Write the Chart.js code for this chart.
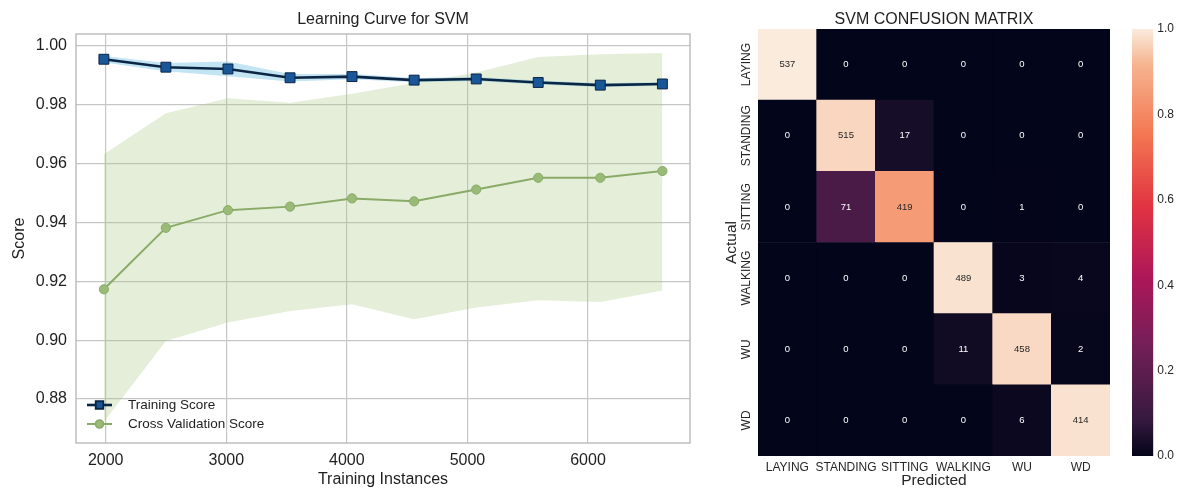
<!DOCTYPE html>
<html>
<head>
<meta charset="utf-8">
<title>SVM learning curve and confusion matrix</title>
<script src="https://cdn.jsdelivr.net/npm/chart.js@4.4.1/dist/chart.umd.min.js"></script>
<style>
  html, body { margin: 0; padding: 0; background: #fff; }
  body { width: 1193px; height: 491px; position: relative; overflow: hidden; }
  canvas { position: absolute; top: 0; }
  #curveChart { left: 0; }
  #matrixChart { left: 700px; }
  #colorbarChart { left: 1120px; }
</style>
</head>
<body>
<canvas id="curveChart" width="700" height="491"></canvas>
<canvas id="matrixChart" width="430" height="491"></canvas>
<canvas id="colorbarChart" width="73" height="491"></canvas>
<script>
// learning curve data
const trainSizes = [1985, 2499, 3014, 3529, 4043, 4558, 5073, 5587, 6102, 6617];
const trainScore = [0.9955, 0.9928, 0.9922, 0.9892, 0.9896, 0.9884, 0.9888, 0.9876, 0.9867, 0.9871];
const trainUpper = [0.9966, 0.9942, 0.9947, 0.9905, 0.9905, 0.9891, 0.9895, 0.9883, 0.9873, 0.9877];
const trainLower = [0.9944, 0.9914, 0.9897, 0.9879, 0.9887, 0.9877, 0.9881, 0.9869, 0.9861, 0.9865];
const cvScore = [0.9173, 0.9382, 0.9442, 0.9454, 0.9482, 0.9472, 0.9512, 0.9552, 0.9552, 0.9575];
const cvUpper = [0.9632, 0.9771, 0.9822, 0.9807, 0.9838, 0.9874, 0.9910, 0.9963, 0.9972, 0.9976];
const cvLower = [0.8723, 0.8997, 0.9060, 0.9099, 0.9122, 0.9071, 0.9111, 0.9136, 0.9130, 0.9169];
const curveXTicks = [2000, 3000, 4000, 5000, 6000];
const curveYTicks = [0.88, 0.90, 0.92, 0.94, 0.96, 0.98, 1.00];

// confusion matrix data
const classes = ['LAYING', 'STANDING', 'SITTING', 'WALKING', 'WU', 'WD'];
const cmRow0 = [537, 0, 0, 0, 0, 0];
const cmRow1 = [0, 515, 17, 0, 0, 0];
const cmRow2 = [0, 71, 419, 0, 1, 0];
const cmRow3 = [0, 0, 0, 489, 3, 4];
const cmRow4 = [0, 0, 0, 11, 458, 2];
const cmRow5 = [0, 0, 0, 0, 6, 414];
const cmCounts = [cmRow0, cmRow1, cmRow2, cmRow3, cmRow4, cmRow5];
const colorbarTicks = [0.0, 0.2, 0.4, 0.6, 0.8, 1.0];

const FONT = "'Liberation Sans', Arial, Helvetica, sans-serif";
const TEXT = '#1e1e1e';
Chart.defaults.font.family = FONT;
Chart.defaults.color = TEXT;

// seaborn "rocket" colour map
const rocketStops = [
  [0.0, '#03051a'], [0.0833, '#35193e'], [0.25, '#701f57'], [0.4167, '#ad1759'],
  [0.5833, '#e13342'], [0.75, '#f37651'], [0.9167, '#f6b48f'], [1.0, '#faebdd']
];

function hexToRgb(h) {
  return [1, 3, 5].map(i => parseInt(h.substr(i, 2), 16));
}

function rocket(t) {
  for (let i = 1; i < rocketStops.length; i++) {
    const [p1, c1] = rocketStops[i];
    const [p0, c0] = rocketStops[i - 1];
    if (t <= p1) {
      const k = (t - p0) / (p1 - p0);
      const a = hexToRgb(c0), b = hexToRgb(c1);
      const rgb = a.map((v, j) => Math.round(v + (b[j] - v) * k));
      return `rgb(${rgb.join(',')})`;
    }
  }
  return rocketStops[rocketStops.length - 1][1];
}

// title centred over the plot area
const areaTitle = {
  id: 'areaTitle',
  afterDraw(chart, args, opts) {
    const { ctx, chartArea } = chart;
    ctx.save();
    ctx.font = `${opts.size}px ${FONT}`;
    ctx.fillStyle = TEXT;
    ctx.textAlign = 'center';
    ctx.textBaseline = 'middle';
    ctx.fillText(opts.text, (chartArea.left + chartArea.right) / 2, opts.y);
    ctx.restore();
  }
};

// grey box round the learning curve plot
const plotFrame = {
  id: 'plotFrame',
  beforeDatasetsDraw(chart) {
    const { ctx, chartArea } = chart;
    ctx.save();
    ctx.strokeStyle = '#b5b5b5';
    ctx.lineWidth = 1.3;
    ctx.strokeRect(chartArea.left, chartArea.top, chartArea.width, chartArea.height);
    ctx.restore();
  }
};

// matplotlib-like legend: line segment with marker, inside the plot
const lineLegend = {
  id: 'lineLegend',
  afterDatasetsDraw(chart) {
    const { ctx, chartArea } = chart;
    const rows = chart.data.datasets.filter(ds => ds.inLegend);
    ctx.save();
    rows.forEach((ds, i) => {
      const y = chartArea.bottom - 38 + i * 19;
      const x0 = chartArea.left + 11;
      ctx.strokeStyle = ds.borderColor;
      ctx.lineWidth = ds.borderWidth;
      ctx.beginPath();
      ctx.moveTo(x0, y);
      ctx.lineTo(x0 + 25, y);
      ctx.stroke();
      Chart.helpers.drawPoint(ctx, {
        pointStyle: ds.pointStyle,
        radius: ds.pointStyle === 'rect' ? 4.8 : 3.8,
        borderWidth: 1,
        rotation: 0
      }, x0 + 12.5, y);
      ctx.fillStyle = ds.pointBackgroundColor;
      ctx.strokeStyle = ds.pointBorderColor;
      ctx.lineWidth = 1;
      ctx.fill();
      ctx.stroke();
      ctx.font = `13.5px ${FONT}`;
      ctx.fillStyle = TEXT;
      ctx.textAlign = 'left';
      ctx.textBaseline = 'middle';
      ctx.fillText(ds.label, x0 + 41, y);
    });
    ctx.restore();
  }
};

const toPoints = ys => trainSizes.map((x, i) => ({ x, y: ys[i] }));
const bandLine = { borderWidth: 0, borderColor: 'transparent', pointRadius: 0, tension: 0 };

new Chart(document.getElementById('curveChart'), {
  type: 'line',
  data: {
    datasets: [
      {
        label: 'Training Score', data: toPoints(trainScore), inLegend: true,
        borderColor: '#0b2545', borderWidth: 2.6, fill: false,
        pointStyle: 'rect', pointRadius: 7, pointBackgroundColor: '#1a5799',
        pointBorderColor: '#0b2545', pointBorderWidth: 1, order: 0
      },
      {
        label: 'Cross Validation Score', data: toPoints(cvScore), inLegend: true,
        borderColor: '#8aab68', borderWidth: 2, fill: false,
        pointStyle: 'circle', pointRadius: 4.6, pointBackgroundColor: '#9aba78',
        pointBorderColor: '#8aab68', pointBorderWidth: 1, order: 1
      },
      { label: 'train upper', data: toPoints(trainUpper), ...bandLine, fill: false, order: 2 },
      { label: 'train lower', data: toPoints(trainLower), ...bandLine, fill: '-1', backgroundColor: 'rgba(120, 196, 228, 0.45)', order: 2 },
      { label: 'cv upper', data: toPoints(cvUpper), ...bandLine, fill: false, order: 3 },
      { label: 'cv lower', data: toPoints(cvLower), ...bandLine, fill: '-1', backgroundColor: 'rgba(166, 199, 130, 0.3)', order: 3 }
    ]
  },
  options: {
    responsive: false,
    animation: false,
    events: [],
    layout: { padding: { top: 34, right: 10, left: 0, bottom: 0 } },
    plugins: {
      legend: { display: false },
      tooltip: { enabled: false },
      areaTitle: { text: 'Learning Curve for SVM', size: 16, y: 20 }
    },
    scales: {
      x: {
        type: 'linear',
        min: 1753.7,
        max: 6845.9,
        afterBuildTicks: scale => { scale.ticks = curveXTicks.map(v => ({ value: v })); },
        afterFit: scale => { scale.height = 48; },
        ticks: { font: { size: 16 }, padding: 8, color: TEXT, callback: v => String(v) },
        grid: { color: '#c6c6c6', lineWidth: 1.2, drawTicks: false },
        border: { display: false },
        title: { display: true, text: 'Training Instances', font: { size: 16 }, padding: { top: 0, bottom: 2 }, color: TEXT }
      },
      y: {
        min: 0.86505,
        max: 1.00408,
        afterBuildTicks: scale => { scale.ticks = curveYTicks.map(v => ({ value: v })); },
        afterFit: scale => { scale.width = 76; },
        ticks: { font: { size: 16 }, padding: 9, color: TEXT, callback: v => v.toFixed(2) },
        grid: { color: '#c6c6c6', lineWidth: 1.2, drawTicks: false },
        border: { display: false },
        title: { display: true, text: 'Score', font: { size: 16 }, padding: { top: 10, bottom: 0 }, color: TEXT }
      }
    }
  },
  plugins: [areaTitle, plotFrame, lineLegend]
});

// heatmap as stacked bars, one dataset per actual class (bottom row first)
const rowShares = cmCounts.map(row => {
  const total = row.reduce((a, b) => a + b, 0);
  return row.map(c => c / total);
});

const matrixDatasets = [];
for (let r = classes.length - 1; r >= 0; r--) {
  matrixDatasets.push({
    label: classes[r],
    row: r,
    data: classes.map(() => 1),
    backgroundColor: rowShares[r].map(rocket),
    borderWidth: 0,
    barPercentage: 1,
    categoryPercentage: 1,
    stack: 'cm'
  });
}

const cellText = {
  id: 'cellText',
  afterDatasetsDraw(chart) {
    const { ctx } = chart;
    ctx.save();
    ctx.font = `9.5px ${FONT}`;
    ctx.textAlign = 'center';
    ctx.textBaseline = 'middle';
    chart.data.datasets.forEach((ds, di) => {
      chart.getDatasetMeta(di).data.forEach((bar, ci) => {
        ctx.fillStyle = rowShares[ds.row][ci] > 0.5 ? '#262626' : '#ffffff';
        ctx.fillText(String(cmCounts[ds.row][ci]), bar.x, (bar.y + bar.base) / 2);
      });
    });
    ctx.restore();
  }
};

const rowLabels = {
  id: 'rowLabels',
  afterDraw(chart) {
    const { ctx, chartArea } = chart;
    const y = chart.scales.y;
    classes.forEach((name, r) => {
      ctx.save();
      ctx.font = `12px ${FONT}`;
      ctx.fillStyle = '#262626';
      ctx.textAlign = 'center';
      ctx.textBaseline = 'middle';
      ctx.translate(chartArea.left - 11.5, y.getPixelForValue(classes.length - r - 0.5));
      ctx.rotate(-Math.PI / 2);
      ctx.fillText(name, 0, 0);
      ctx.restore();
    });
  }
};

new Chart(document.getElementById('matrixChart'), {
  type: 'bar',
  data: { labels: classes, datasets: matrixDatasets },
  options: {
    responsive: false,
    animation: false,
    events: [],
    layout: { padding: { top: 29, right: 20, left: 0, bottom: 0 } },
    plugins: {
      legend: { display: false },
      tooltip: { enabled: false },
      areaTitle: { text: 'SVM CONFUSION MATRIX', size: 16, y: 19.5 }
    },
    scales: {
      x: {
        stacked: true,
        afterFit: scale => { scale.height = 35; },
        ticks: { font: { size: 12 }, padding: 4, color: '#262626', maxRotation: 0, autoSkip: false },
        grid: { display: false, drawTicks: false },
        border: { display: false },
        title: { display: true, text: 'Predicted', font: { size: 15.5 }, padding: { top: 0, bottom: 1 }, color: '#262626' }
      },
      y: {
        stacked: true,
        min: 0,
        max: classes.length,
        afterFit: scale => { scale.width = 58; },
        ticks: { display: false },
        grid: { display: false, drawTicks: false },
        border: { display: false },
        title: { display: true, text: 'Actual', font: { size: 15.5 }, padding: { top: 22, bottom: 0 }, color: '#262626' }
      }
    }
  },
  plugins: [areaTitle, cellText, rowLabels]
});

// colour bar
new Chart(document.getElementById('colorbarChart'), {
  type: 'bar',
  data: {
    labels: ['share'],
    datasets: [{
      data: [[0, 1]],
      barPercentage: 1,
      categoryPercentage: 1,
      borderWidth: 0,
      backgroundColor: ctx => {
        const area = ctx.chart.chartArea;
        if (!area) return '#000';
        const g = ctx.chart.ctx.createLinearGradient(0, area.bottom, 0, area.top);
        rocketStops.forEach(([p, c]) => g.addColorStop(p, c));
        return g;
      }
    }]
  },
  options: {
    responsive: false,
    animation: false,
    events: [],
    layout: { padding: { top: 29, right: 0, left: 12, bottom: 35 } },
    plugins: { legend: { display: false }, tooltip: { enabled: false } },
    scales: {
      x: { display: false },
      y: {
        position: 'right',
        min: 0,
        max: 1,
        afterBuildTicks: scale => { scale.ticks = colorbarTicks.map(v => ({ value: v })); },
        afterFit: scale => { scale.width = 39.7; },
        ticks: { font: { size: 12 }, padding: 4, color: '#262626', callback: v => v.toFixed(1) },
        grid: { display: false, drawTicks: false },
        border: { display: false }
      }
    }
  }
});
</script>
</body>
</html>
